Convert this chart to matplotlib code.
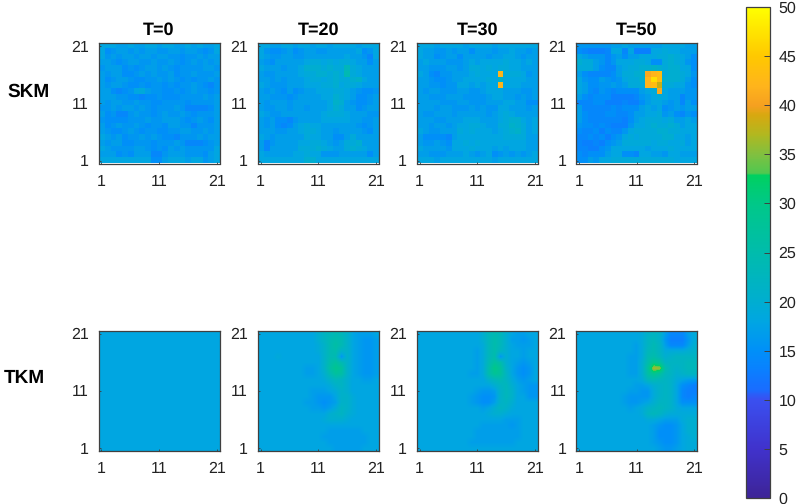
import matplotlib
matplotlib.use('Agg')
import matplotlib.pyplot as plt
from matplotlib.colors import LinearSegmentedColormap

plt.rcParams['font.family'] = ['Liberation Sans', 'DejaVu Sans']
plt.rcParams['text.hinting'] = 'no_hinting'
plt.rcParams['text.hinting_factor'] = 1

W, H = 796, 504

titles = ['T=0', 'T=20', 'T=30', 'T=50']
row_names = ['SKM', 'TKM']
tick_vals = [1, 11, 21]
bar_ticks = [0, 5, 10, 15, 20, 25, 30, 35, 40, 45, 50]

# rows go from y=21 (top) down to y=1
skm_0 = [
    [18, 18, 18, 17, 17, 18, 17, 17, 18, 18, 17, 18, 18, 17, 17, 18, 17, 18, 17, 17, 18],
    [18, 15, 16, 17, 17, 16, 17, 16, 17, 17, 16, 16, 17, 17, 16, 17, 17, 16, 15, 16, 18],
    [18, 16, 17, 16, 17, 17, 16, 17, 17, 16, 17, 17, 16, 16, 15, 16, 16, 17, 16, 17, 17],
    [17, 17, 16, 15, 16, 17, 17, 16, 16, 17, 16, 16, 17, 16, 15, 16, 17, 16, 17, 16, 17],
    [16, 17, 17, 17, 15, 16, 15, 16, 17, 17, 16, 17, 16, 15, 16, 16, 16, 16, 17, 17, 16],
    [17, 16, 17, 17, 15, 15, 16, 17, 16, 17, 16, 16, 17, 15, 16, 16, 17, 16, 16, 16, 17],
    [17, 15, 16, 17, 17, 16, 15, 15, 16, 16, 17, 16, 17, 16, 15, 16, 15, 16, 16, 17, 16],
    [17, 16, 17, 17, 16, 15, 15, 16, 15, 16, 16, 15, 16, 15, 16, 16, 17, 16, 15, 14, 16],
    [17, 17, 15, 14, 15, 16, 18, 19, 17, 16, 16, 15, 15, 16, 15, 16, 17, 16, 16, 15, 16],
    [17, 17, 17, 16, 16, 15, 15, 14, 15, 15, 16, 15, 15, 15, 16, 16, 16, 16, 17, 16, 17],
    [17, 16, 17, 17, 16, 16, 17, 16, 16, 15, 15, 16, 16, 16, 16, 15, 16, 16, 16, 16, 17],
    [16, 16, 17, 16, 17, 17, 16, 17, 16, 15, 16, 16, 16, 17, 16, 14, 14, 14, 14, 15, 17],
    [17, 15, 16, 14, 14, 16, 17, 16, 16, 15, 16, 17, 16, 16, 17, 16, 15, 16, 16, 16, 17],
    [16, 15, 15, 15, 15, 16, 16, 16, 17, 16, 16, 17, 17, 17, 16, 15, 16, 17, 16, 15, 17],
    [17, 15, 16, 17, 16, 16, 17, 16, 15, 16, 16, 15, 17, 17, 16, 16, 14, 16, 16, 16, 17],
    [17, 16, 15, 15, 16, 17, 16, 15, 16, 16, 15, 15, 16, 16, 17, 17, 16, 16, 17, 16, 17],
    [18, 17, 16, 17, 15, 16, 16, 17, 16, 17, 16, 15, 15, 14, 16, 16, 16, 17, 16, 17, 17],
    [17, 16, 17, 17, 15, 15, 16, 16, 16, 15, 16, 16, 16, 17, 16, 14, 14, 14, 15, 16, 17],
    [18, 17, 16, 16, 16, 16, 17, 17, 16, 15, 16, 15, 17, 16, 17, 16, 16, 16, 16, 16, 18],
    [17, 17, 17, 15, 16, 15, 17, 17, 17, 14, 14, 16, 17, 17, 17, 16, 16, 16, 15, 17, 18],
    [18, 18, 18, 18, 18, 18, 18, 18, 18, 15, 15, 17, 18, 18, 18, 17, 18, 18, 16, 17, 18],
]
skm_20 = [
    [18, 18, 17, 17, 18, 18, 17, 18, 18, 17, 18, 18, 17, 18, 18, 18, 18, 17, 18, 18, 18],
    [18, 16, 15, 15, 16, 17, 15, 16, 17, 17, 16, 16, 17, 17, 17, 17, 17, 18, 15, 16, 18],
    [18, 17, 16, 16, 17, 17, 16, 16, 17, 17, 17, 17, 17, 17, 17, 18, 17, 17, 16, 14, 18],
    [17, 16, 15, 17, 17, 17, 17, 17, 18, 19, 19, 18, 19, 18, 19, 19, 18, 17, 17, 15, 17],
    [18, 17, 17, 17, 16, 17, 17, 18, 20, 20, 20, 19, 20, 19, 19, 23, 19, 18, 17, 17, 17],
    [17, 16, 16, 17, 17, 17, 17, 18, 19, 19, 20, 20, 19, 20, 19, 24, 19, 18, 17, 17, 17],
    [17, 17, 16, 17, 16, 17, 17, 17, 18, 19, 19, 18, 19, 20, 19, 19, 20, 21, 18, 17, 17],
    [18, 17, 16, 16, 16, 17, 17, 17, 18, 18, 18, 19, 19, 20, 18, 19, 19, 18, 17, 17, 17],
    [17, 16, 17, 16, 15, 17, 15, 16, 17, 17, 18, 18, 18, 19, 19, 18, 17, 16, 15, 15, 16],
    [17, 17, 16, 16, 16, 15, 16, 17, 17, 17, 17, 18, 18, 20, 19, 18, 17, 15, 15, 16, 17],
    [17, 16, 17, 17, 17, 16, 17, 17, 17, 17, 17, 17, 18, 21, 20, 17, 16, 15, 15, 16, 17],
    [17, 16, 16, 17, 17, 16, 17, 17, 16, 17, 17, 17, 18, 20, 19, 17, 17, 15, 16, 17, 17],
    [18, 17, 16, 16, 17, 17, 17, 17, 17, 17, 17, 18, 19, 19, 19, 18, 17, 17, 17, 16, 16],
    [17, 16, 17, 15, 15, 14, 16, 17, 17, 17, 17, 18, 18, 18, 18, 18, 17, 17, 16, 16, 17],
    [17, 16, 17, 15, 14, 15, 17, 18, 19, 18, 18, 17, 17, 17, 17, 17, 17, 16, 15, 16, 17],
    [17, 17, 17, 16, 16, 17, 17, 18, 19, 19, 18, 17, 17, 16, 17, 17, 17, 17, 16, 15, 17],
    [18, 17, 16, 17, 17, 17, 17, 17, 19, 18, 18, 17, 17, 15, 15, 17, 19, 17, 17, 17, 17],
    [17, 14, 16, 17, 17, 17, 17, 18, 18, 19, 19, 18, 17, 16, 17, 19, 19, 20, 17, 17, 17],
    [17, 14, 17, 17, 17, 17, 17, 19, 19, 19, 20, 19, 18, 17, 17, 19, 20, 19, 18, 17, 17],
    [18, 17, 17, 17, 17, 17, 18, 18, 19, 18, 18, 16, 16, 16, 17, 17, 17, 17, 17, 15, 17],
    [18, 18, 18, 18, 18, 18, 18, 18, 20, 20, 18, 18, 18, 18, 18, 18, 18, 18, 18, 18, 18],
]
skm_30 = [
    [18, 18, 18, 17, 18, 18, 18, 18, 17, 18, 18, 18, 18, 17, 18, 18, 18, 18, 18, 18, 18],
    [18, 17, 17, 16, 16, 17, 16, 17, 17, 15, 17, 17, 17, 16, 17, 17, 18, 17, 17, 16, 17],
    [18, 17, 17, 15, 16, 17, 17, 15, 17, 17, 17, 17, 16, 17, 17, 18, 18, 17, 16, 17, 17],
    [17, 18, 17, 17, 17, 16, 16, 16, 17, 18, 17, 18, 18, 18, 18, 19, 18, 18, 17, 18, 17],
    [17, 17, 16, 16, 16, 17, 17, 16, 17, 19, 19, 18, 19, 18, 19, 19, 18, 18, 17, 17, 17],
    [18, 17, 15, 14, 16, 16, 17, 17, 17, 18, 19, 18, 18, 18, 42, 19, 19, 19, 18, 16, 17],
    [17, 17, 16, 15, 15, 16, 17, 17, 18, 18, 18, 18, 19, 18, 21, 18, 18, 18, 18, 17, 17],
    [17, 17, 16, 16, 15, 16, 16, 18, 18, 17, 18, 17, 18, 18, 42, 18, 18, 18, 17, 17, 17],
    [17, 16, 17, 17, 16, 16, 16, 17, 17, 16, 16, 17, 18, 18, 18, 17, 17, 17, 16, 16, 17],
    [17, 17, 16, 16, 16, 17, 17, 17, 16, 16, 16, 16, 17, 18, 18, 17, 17, 16, 17, 16, 17],
    [17, 17, 17, 17, 16, 16, 16, 17, 17, 16, 16, 16, 17, 17, 17, 18, 18, 17, 17, 15, 15],
    [17, 17, 17, 16, 17, 17, 16, 16, 16, 17, 16, 17, 16, 16, 18, 18, 17, 17, 17, 16, 17],
    [17, 16, 16, 17, 17, 17, 16, 17, 17, 17, 17, 17, 16, 17, 18, 19, 18, 17, 17, 17, 17],
    [17, 17, 17, 16, 16, 17, 17, 17, 18, 18, 18, 17, 17, 17, 18, 19, 20, 20, 18, 17, 18],
    [17, 17, 16, 17, 17, 16, 17, 18, 18, 19, 19, 18, 17, 17, 19, 19, 21, 20, 19, 17, 18],
    [18, 17, 16, 16, 17, 17, 17, 19, 18, 19, 18, 18, 18, 17, 18, 19, 20, 21, 19, 17, 18],
    [17, 15, 15, 15, 15, 14, 17, 18, 18, 18, 18, 18, 18, 18, 18, 19, 19, 19, 19, 17, 17],
    [17, 16, 16, 17, 16, 15, 18, 18, 19, 18, 19, 18, 18, 18, 18, 18, 18, 18, 18, 17, 17],
    [18, 17, 17, 17, 17, 16, 18, 18, 18, 19, 18, 18, 18, 17, 18, 17, 18, 18, 18, 17, 17],
    [17, 17, 16, 16, 16, 17, 17, 17, 18, 17, 16, 17, 18, 15, 16, 17, 16, 17, 16, 17, 18],
    [18, 18, 18, 17, 18, 18, 18, 18, 18, 18, 18, 18, 18, 17, 18, 18, 18, 18, 18, 18, 18],
]
skm_50 = [
    [16, 16, 16, 16, 16, 16, 17, 17, 18, 17, 17, 17, 17, 17, 17, 18, 18, 18, 18, 17, 17],
    [15, 14, 13, 13, 13, 14, 18, 18, 14, 18, 13, 13, 13, 18, 18, 19, 18, 18, 17, 17, 17],
    [18, 17, 16, 16, 16, 14, 16, 17, 15, 17, 17, 18, 18, 18, 19, 19, 20, 19, 18, 17, 15],
    [20, 19, 19, 17, 16, 14, 16, 18, 18, 18, 19, 19, 18, 15, 15, 19, 20, 19, 18, 16, 15],
    [19, 19, 19, 17, 15, 14, 14, 17, 18, 19, 19, 20, 20, 21, 20, 19, 20, 20, 18, 18, 15],
    [17, 15, 14, 14, 14, 14, 15, 17, 19, 19, 20, 20, 41, 42, 43, 19, 20, 20, 19, 18, 16],
    [18, 16, 15, 15, 17, 16, 15, 16, 18, 19, 19, 20, 42, 47, 43, 20, 20, 20, 19, 17, 15],
    [18, 17, 15, 15, 16, 16, 17, 16, 17, 19, 19, 19, 42, 43, 38, 19, 19, 18, 18, 16, 15],
    [18, 17, 15, 14, 16, 15, 14, 15, 15, 15, 15, 17, 18, 19, 41, 18, 17, 17, 17, 16, 16],
    [17, 15, 14, 15, 15, 15, 13, 13, 13, 13, 14, 16, 17, 18, 19, 18, 17, 17, 14, 16, 16],
    [14, 14, 14, 15, 15, 13, 13, 13, 14, 13, 13, 15, 17, 18, 18, 17, 16, 17, 14, 17, 15],
    [17, 14, 14, 14, 14, 14, 15, 14, 15, 15, 15, 17, 18, 17, 18, 15, 16, 17, 16, 17, 17],
    [17, 15, 14, 14, 14, 15, 15, 14, 14, 15, 17, 17, 18, 18, 19, 16, 17, 15, 14, 16, 15],
    [17, 15, 14, 14, 14, 14, 14, 14, 13, 15, 17, 18, 19, 19, 19, 18, 19, 17, 17, 18, 17],
    [16, 15, 15, 14, 15, 14, 13, 13, 13, 16, 18, 18, 19, 20, 19, 19, 20, 19, 17, 18, 18],
    [15, 14, 14, 15, 13, 15, 14, 14, 16, 18, 19, 19, 19, 19, 20, 20, 19, 19, 18, 18, 18],
    [14, 14, 15, 14, 15, 13, 15, 16, 18, 19, 18, 19, 19, 19, 19, 20, 20, 18, 18, 17, 18],
    [14, 13, 13, 14, 13, 15, 16, 17, 19, 19, 19, 19, 19, 18, 19, 19, 18, 18, 19, 17, 18],
    [14, 14, 13, 13, 15, 16, 18, 18, 18, 18, 18, 18, 17, 18, 18, 18, 19, 18, 18, 18, 18],
    [15, 14, 15, 15, 15, 17, 18, 18, 15, 15, 14, 18, 18, 17, 17, 16, 18, 18, 17, 17, 17],
    [15, 15, 17, 16, 18, 18, 19, 19, 19, 19, 19, 19, 19, 19, 19, 19, 19, 18, 18, 18, 18],
]
tkm_0 = [[18] * 21] * 21
tkm_20 = [
    [18, 18, 18, 18, 18, 18, 18, 18, 18, 18, 20, 22, 23, 24, 23, 21, 18, 17, 17, 17, 18],
    [18, 18, 18, 18, 18, 18, 18, 18, 18, 18, 20, 22, 24, 25, 24, 21, 18, 17, 16, 16, 17],
    [18, 18, 18, 18, 18, 18, 18, 18, 18, 18, 19, 21, 24, 26, 24, 21, 18, 17, 16, 16, 17],
    [18, 18, 18, 18, 18, 18, 18, 18, 18, 18, 19, 21, 24, 25, 21, 21, 18, 17, 16, 16, 17],
    [18, 18, 18, 19, 18, 18, 18, 18, 18, 18, 18, 21, 24, 24, 16, 21, 18, 17, 16, 16, 17],
    [18, 18, 18, 18, 18, 18, 18, 18, 18, 18, 18, 21, 25, 27, 24, 21, 18, 17, 16, 16, 17],
    [18, 18, 18, 18, 18, 18, 18, 18, 17, 17, 18, 21, 26, 29, 27, 21, 18, 17, 16, 16, 17],
    [18, 18, 18, 18, 18, 18, 18, 18, 17, 17, 18, 20, 24, 27, 26, 21, 18, 17, 16, 16, 17],
    [18, 18, 18, 18, 18, 18, 18, 18, 18, 18, 18, 19, 21, 23, 22, 20, 18, 18, 17, 17, 18],
    [18, 18, 18, 18, 18, 18, 18, 18, 18, 18, 18, 18, 19, 21, 22, 20, 18, 18, 18, 18, 18],
    [18, 18, 18, 18, 18, 18, 18, 18, 18, 17, 17, 17, 18, 19, 21, 20, 18, 18, 18, 18, 18],
    [18, 18, 18, 18, 18, 18, 18, 18, 18, 17, 16, 16, 16, 18, 21, 21, 19, 18, 18, 18, 18],
    [18, 18, 18, 18, 18, 18, 18, 18, 17, 17, 16, 15, 16, 17, 21, 21, 19, 18, 18, 18, 18],
    [18, 18, 18, 18, 18, 18, 18, 18, 18, 17, 17, 16, 17, 19, 22, 21, 19, 18, 18, 18, 18],
    [18, 18, 18, 18, 18, 18, 18, 18, 18, 18, 18, 18, 20, 21, 22, 20, 19, 18, 18, 18, 18],
    [18, 18, 18, 18, 18, 18, 18, 18, 18, 18, 18, 19, 20, 20, 20, 19, 18, 18, 18, 18, 18],
    [18, 18, 18, 18, 18, 18, 18, 18, 18, 18, 18, 18, 18, 18, 18, 18, 18, 18, 18, 18, 18],
    [18, 18, 18, 18, 18, 18, 18, 18, 18, 18, 18, 18, 17, 17, 17, 17, 17, 17, 18, 18, 18],
    [18, 18, 18, 18, 18, 18, 18, 18, 18, 18, 18, 17, 17, 17, 17, 17, 17, 17, 17, 18, 18],
    [18, 18, 18, 18, 18, 18, 18, 18, 18, 18, 18, 18, 17, 17, 17, 17, 17, 17, 17, 18, 18],
    [18, 18, 18, 18, 18, 18, 18, 18, 18, 18, 18, 18, 18, 17, 17, 17, 17, 17, 18, 18, 18],
]
tkm_30 = [
    [18, 18, 18, 18, 18, 18, 18, 18, 18, 18, 18, 20, 23, 24, 23, 20, 18, 17, 17, 18, 18],
    [18, 18, 18, 18, 18, 18, 18, 18, 18, 18, 18, 20, 23, 25, 23, 20, 17, 17, 16, 17, 18],
    [18, 18, 18, 18, 18, 18, 18, 18, 18, 18, 18, 19, 23, 25, 23, 20, 18, 17, 17, 17, 18],
    [18, 18, 18, 18, 18, 18, 18, 18, 18, 18, 17, 19, 23, 25, 22, 20, 18, 18, 17, 18, 18],
    [18, 18, 18, 18, 18, 18, 18, 18, 18, 18, 17, 19, 23, 25, 16, 20, 18, 18, 17, 18, 18],
    [18, 18, 18, 18, 18, 18, 18, 18, 18, 18, 17, 19, 24, 27, 25, 20, 18, 17, 16, 17, 18],
    [18, 18, 18, 18, 18, 18, 18, 18, 18, 18, 17, 19, 25, 30, 27, 21, 18, 16, 15, 16, 18],
    [18, 18, 18, 18, 18, 18, 18, 18, 18, 17, 17, 19, 25, 28, 27, 22, 18, 16, 15, 16, 18],
    [18, 18, 18, 18, 18, 18, 18, 18, 18, 18, 18, 18, 21, 23, 24, 22, 19, 17, 16, 17, 18],
    [18, 18, 18, 18, 18, 18, 18, 18, 18, 18, 18, 18, 18, 20, 22, 23, 20, 18, 17, 16, 16],
    [18, 18, 18, 18, 18, 18, 18, 18, 18, 18, 17, 16, 16, 17, 21, 23, 21, 18, 17, 16, 16],
    [18, 18, 18, 18, 18, 18, 18, 18, 18, 17, 16, 15, 15, 16, 21, 23, 21, 18, 18, 16, 16],
    [18, 18, 18, 18, 18, 18, 18, 18, 18, 17, 16, 15, 15, 17, 21, 22, 20, 18, 18, 18, 18],
    [18, 18, 18, 18, 18, 18, 18, 18, 18, 18, 18, 17, 18, 20, 22, 21, 19, 18, 18, 18, 18],
    [18, 18, 18, 18, 18, 18, 18, 18, 18, 18, 18, 18, 19, 20, 20, 19, 18, 18, 18, 18, 18],
    [18, 18, 18, 18, 18, 18, 18, 18, 18, 18, 18, 18, 18, 18, 18, 17, 17, 17, 18, 18, 18],
    [18, 18, 18, 18, 18, 18, 18, 18, 18, 18, 18, 17, 17, 17, 17, 17, 16, 17, 18, 18, 18],
    [18, 18, 18, 18, 18, 18, 18, 18, 18, 18, 17, 17, 17, 17, 17, 17, 17, 17, 18, 18, 18],
    [18, 18, 18, 18, 18, 18, 18, 18, 18, 18, 17, 17, 17, 17, 17, 17, 17, 17, 18, 18, 18],
    [18, 18, 18, 18, 18, 18, 18, 18, 18, 17, 17, 17, 17, 17, 17, 17, 17, 18, 18, 18, 18],
    [18, 18, 18, 18, 18, 18, 18, 18, 18, 18, 18, 18, 18, 18, 18, 18, 18, 18, 18, 18, 18],
]
tkm_50 = [
    [18, 18, 18, 18, 18, 18, 18, 18, 18, 18, 18, 19, 21, 22, 21, 17, 14, 14, 14, 17, 19],
    [18, 18, 18, 18, 18, 18, 18, 18, 18, 18, 18, 19, 22, 23, 21, 16, 13, 13, 13, 16, 19],
    [18, 18, 18, 18, 18, 18, 18, 18, 18, 18, 17, 19, 22, 24, 22, 17, 14, 14, 14, 17, 20],
    [18, 18, 18, 18, 18, 18, 18, 18, 18, 18, 17, 19, 23, 24, 22, 19, 19, 19, 19, 20, 21],
    [18, 18, 18, 18, 18, 18, 18, 18, 18, 17, 17, 19, 24, 25, 23, 20, 21, 22, 22, 22, 22],
    [18, 18, 18, 18, 18, 18, 18, 18, 18, 17, 17, 20, 25, 29, 27, 22, 22, 22, 22, 23, 23],
    [18, 18, 18, 18, 18, 18, 18, 18, 18, 17, 17, 20, 27, 37, 36, 25, 22, 21, 22, 23, 23],
    [18, 18, 18, 18, 18, 18, 18, 18, 18, 17, 17, 20, 26, 29, 27, 23, 22, 20, 21, 22, 22],
    [18, 18, 18, 18, 18, 18, 18, 18, 18, 18, 18, 19, 23, 24, 23, 22, 21, 19, 18, 17, 17],
    [18, 18, 18, 18, 18, 18, 18, 18, 18, 18, 17, 17, 18, 20, 21, 22, 21, 18, 15, 14, 13],
    [18, 18, 18, 18, 18, 18, 18, 18, 18, 17, 17, 16, 16, 19, 21, 22, 21, 18, 14, 13, 13],
    [18, 18, 18, 18, 18, 18, 18, 18, 17, 16, 16, 16, 16, 19, 21, 22, 21, 18, 14, 13, 14],
    [18, 18, 18, 18, 18, 18, 18, 18, 17, 16, 16, 17, 18, 20, 22, 22, 21, 18, 15, 15, 15],
    [18, 18, 18, 18, 18, 18, 18, 18, 18, 17, 18, 19, 21, 22, 23, 22, 21, 19, 18, 18, 18],
    [18, 18, 18, 18, 18, 18, 18, 18, 18, 18, 18, 19, 22, 23, 22, 20, 19, 19, 19, 19, 19],
    [18, 18, 18, 18, 18, 18, 18, 18, 18, 18, 18, 18, 19, 19, 18, 17, 17, 17, 19, 20, 20],
    [18, 18, 18, 18, 18, 18, 18, 18, 18, 18, 18, 18, 18, 17, 16, 15, 15, 16, 18, 20, 20],
    [18, 18, 18, 18, 18, 18, 18, 18, 18, 18, 18, 18, 18, 17, 15, 15, 15, 16, 18, 20, 20],
    [18, 18, 18, 18, 18, 18, 18, 18, 18, 18, 18, 18, 18, 17, 15, 15, 15, 16, 18, 19, 20],
    [18, 18, 18, 18, 18, 18, 18, 18, 18, 18, 18, 18, 18, 17, 16, 15, 15, 16, 18, 19, 19],
    [18, 18, 18, 18, 18, 18, 18, 18, 18, 18, 18, 18, 18, 18, 17, 16, 16, 17, 18, 19, 19],
]
grids = [[skm_0, skm_20, skm_30, skm_50], [tkm_0, tkm_20, tkm_30, tkm_50]]

# parula-like map with the jump just above 33
cm_stops = [
    (0, '#3d2497'), (5, '#4032cc'), (10, '#3a50f0'), (11, '#1a6cff'), (13, '#0a80ff'),
    (15, '#0090f8'), (18, '#00a6e2'), (20, '#00aed0'), (25, '#00bcac'), (30, '#00c888'),
    (32.9, '#00d060'), (33.1, '#50c850'), (35, '#80c040'), (37, '#b0b820'), (39, '#d8a810'),
    (40, '#f5a020'), (42, '#ffb41c'), (45, '#ffc800'), (50, '#ffff00'),
]
cmap = LinearSegmentedColormap.from_list('jet2', [(v / 50, c) for v, c in cm_stops], N=512)

col_left = [98.5, 257.7, 416.7, 576]
row_top = [43.5, 330.7]
ax_w, ax_h = 121, 120
edge = '#404040'
# TKM fields look smooth in the original, SKM keeps its cells
row_interp = ['nearest', 'bilinear']


def px_box(left, top, w, h):
    return [left / W, 1 - (top + h) / H, w / W, h / H]


fig = plt.figure(figsize=(W / 100, H / 100), dpi=100)

for r in range(2):
    for c in range(4):
        ax = fig.add_axes(px_box(col_left[c], row_top[r], ax_w, ax_h))
        im = ax.imshow(grids[r][c], cmap=cmap, vmin=0, vmax=50, origin='upper',
                       extent=[0.5, 21.5, 0.5, 21.5], aspect='auto',
                       interpolation=row_interp[r])
        ax.set_xticks(tick_vals)
        ax.set_yticks(tick_vals)
        ax.tick_params(direction='in', length=1.5, width=0.6, color=edge, labelsize=11.7,
                       labelcolor='#222222')
        ax.tick_params(axis='x', pad=8)
        ax.tick_params(axis='y', pad=7)
        for s in ax.spines.values():
            s.set_color(edge)
            s.set_linewidth(0.9)
        if r == 0:
            ax.set_title(titles[c], fontsize=13, fontweight='bold', pad=6)

for name, x, y in zip(row_names, [28.5, 24], [92, 378.5]):
    fig.text(x / W, 1 - y / H, name, fontsize=14, fontweight='bold', ha='center', va='center')

cax = fig.add_axes(px_box(746, 7, 24, 491))
cb = fig.colorbar(im, cax=cax)
cb.set_ticks(bar_ticks)
cb.ax.tick_params(direction='in', length=4, width=0.7, color=edge, labelsize=11.7, pad=6,
                  labelcolor='#222222')
cb.outline.set_edgecolor(edge)
cb.outline.set_linewidth(0.9)

fig.savefig('out.png', dpi=100)
